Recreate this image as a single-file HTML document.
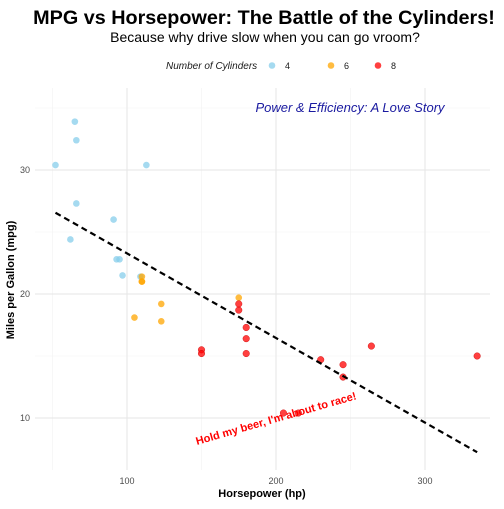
<!DOCTYPE html>
<html><head><meta charset="utf-8"><style>
body{margin:0;background:#fff;font-family:"Liberation Sans",sans-serif}
</style></head><body>
<svg id="chart" width="504" height="504" xmlns="http://www.w3.org/2000/svg">
<rect width="504" height="504" fill="#fff"/>
<text x="264" y="24" text-anchor="middle" font-size="19.8" font-weight="bold" fill="#000">MPG vs Horsepower: The Battle of the Cylinders!</text>
<text x="265" y="42" text-anchor="middle" font-size="14" fill="#000">Because why drive slow when you can go vroom?</text>
<g id="legend">
<text x="166" y="69" font-size="10" font-style="italic" fill="#1a1a1a">Number of Cylinders</text>
</g>
<g id="grid"></g>
<g id="marks"></g>
<g id="axes"></g>
<text x="350" y="112" text-anchor="middle" font-size="13" font-style="italic" fill="#1a1aa0">Power &amp; Efficiency: A Love Story</text>
<text x="277" y="422" text-anchor="middle" font-size="11" font-weight="bold" fill="red" transform="rotate(-16 277 422)">Hold my beer, I'm about to race!</text>
<text x="262" y="497" text-anchor="middle" font-size="11" font-weight="bold">Horsepower (hp)</text>
<text x="14" y="280" text-anchor="middle" font-size="11" font-weight="bold" transform="rotate(-90 14 280)">Miles per Gallon (mpg)</text>
</svg>
<script>
const hp4=[93,62,95,66,52,65,97,66,91,113,109];
const mpg4=[22.8,24.4,22.8,32.4,30.4,33.9,21.5,27.3,26.0,30.4,21.4];
const hp6=[110,110,110,105,123,123,175];
const mpg6=[21.0,21.0,21.4,18.1,19.2,17.8,19.7];
const hp8=[175,245,180,180,180,205,215,230,150,150,245,175,264,335];
const mpg8=[18.7,14.3,16.4,17.3,15.2,10.4,10.4,14.7,15.5,15.2,13.3,19.2,15.8,15.0];
const xTicks=[100,200,300];
const yTicks=[10,20,30];
const cylLabels=["4","6","8"];
const fitLine=[30.099,-0.06823];
const NS="http://www.w3.org/2000/svg";
const X=h=>127+(h-100)*1.49;
const Y=m=>294-(m-20)*12.4;
function mk(t,a,p){const e=document.createElementNS(NS,t);for(const k in a)e.setAttribute(k,a[k]);(p||document.getElementById('marks')).appendChild(e);return e;}
const grid=document.getElementById('grid');
const L=35,R=490,T=88,B=470;
[50,150,250,350].forEach(v=>{if(X(v)>L&&X(v)<R){const e=mk('line',{x1:X(v),x2:X(v),y1:T,y2:B,stroke:'#f2f2f2','stroke-width':0.6},grid);}});
[15,25,35].forEach(v=>{if(Y(v)>T&&Y(v)<B){const e=mk('line',{x1:L,x2:R,y1:Y(v),y2:Y(v),stroke:'#f2f2f2','stroke-width':0.6},grid);}});
const axes=document.getElementById('axes');
xTicks.forEach(v=>{const g=mk('line',{x1:X(v),x2:X(v),y1:T,y2:B,stroke:'#e6e6e6','stroke-width':1},grid);
const t=mk('text',{x:X(v),y:484,'text-anchor':'middle','font-size':9,fill:'#4d4d4d'},axes);t.textContent=v;});
yTicks.forEach(v=>{const g=mk('line',{x1:L,x2:R,y1:Y(v),y2:Y(v),stroke:'#e6e6e6','stroke-width':1},grid);
const t=mk('text',{x:30,y:Y(v)+3,'text-anchor':'end','font-size':9,fill:'#4d4d4d'},axes);t.textContent=v;});
const colors=['#87ceeb','#ffa500','#ff0000'];
const series=[[hp4,mpg4],[hp6,mpg6],[hp8,mpg8]];
series.forEach((s,i)=>{s[0].forEach((h,j)=>{const c=mk('circle',{cx:X(h),cy:Y(s[1][j]),r:3.3,fill:colors[i],'fill-opacity':0.75,stroke:i==2?'#c00':'none','stroke-width':0.4});});});
const allHp=hp4.concat(hp6,hp8);const h0=Math.min(...allHp),h1=Math.max(...allHp);
const ln=mk('line',{x1:X(h0),y1:Y(fitLine[0]+fitLine[1]*h0),x2:X(h1),y2:Y(fitLine[0]+fitLine[1]*h1),stroke:'#000','stroke-width':2.2,'stroke-dasharray':'6,4'});

const lg=document.getElementById('legend');
const lx=[272,331,378];
cylLabels.forEach((c,i)=>{const d=mk('circle',{cx:lx[i],cy:65.5,r:3.3,fill:colors[i],'fill-opacity':0.75},lg);
const t=mk('text',{x:lx[i]+13,y:69,'font-size':9,fill:'#1a1a1a'},lg);t.textContent=c;});
</script>
</body></html>
